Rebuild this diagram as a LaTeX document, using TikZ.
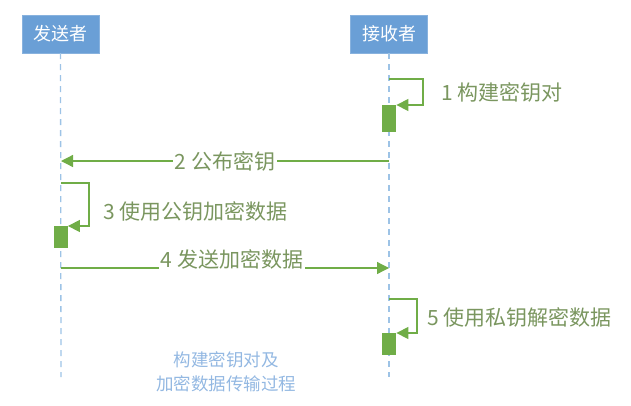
\documentclass[tikz,border=0pt]{standalone}
\usepackage{fontspec}
\usepackage{xcolor}
\usepackage{tikz}
\usetikzlibrary{positioning,arrows.meta,calc}
\newfontfamily\cjk{Noto Sans CJK SC}
\definecolor{boxblue}{HTML}{6A9FD6}
\definecolor{lifeblue}{HTML}{9DC3E6}
\definecolor{msggreen}{HTML}{70AD47}
\definecolor{txtgreen}{HTML}{7A965F}
\definecolor{capblue}{HTML}{93B8E2}

\begin{document}
\begin{tikzpicture}[
    x=1pt, y=-1pt,
    actor/.style={fill=boxblue, draw=boxblue!80, minimum width=77pt, minimum height=38pt, inner sep=0pt, text=white, font=\cjk\fontsize{18}{20}\selectfont},
    life/.style={draw=lifeblue, line width=1.3pt, dash pattern=on 6pt off 5pt},
    msg/.style={-{Triangle[length=12pt,width=12pt]}, draw=msggreen, line width=1.3pt},
    bar/.style={fill=msggreen, draw=none, minimum width=14pt, minimum height=24pt, inner sep=0pt},
    lbl/.style={text=txtgreen, inner sep=2pt, font=\cjk\fontsize{21}{23}\selectfont},
    captext/.style={text=capblue, align=center, font=\cjk\fontsize{17.5}{24}\selectfont}
]
    \useasboundingbox (0,0) rectangle (631,405);

    % actors and lifelines
    \node[actor] (sender) at (60.5,34) {发送者};
    \node[actor] (receiver) at (389,34) {接收者};
    \coordinate (sendend) at (61,377);
    \coordinate (recvend) at (389,377);
    \draw[life] (sender.south) -- (sendend);
    \draw[life] (receiver.south) -- (recvend);

    % 1: receiver builds key pair
    \coordinate (r1) at (389,79);
    \node[bar, anchor=north west, minimum height=27pt] (b1) at (382,105) {};
    \draw[msg] (r1) -- ++(34,0) |- (b1.north east);
    \node[lbl, anchor=west] (l1) at (439,92) {1 构建密钥对};

    % 2: publish public key
    \coordinate (m2r) at (389,161);
    \coordinate (m2s) at (61,161);
    \draw[msg] (m2r) -- node[lbl, fill=white] (l2) {2 公布密钥} (m2s);

    % 3: sender encrypts
    \coordinate (s3) at (61,183);
    \node[bar, anchor=north west, minimum height=22pt] (b3) at (53.5,226) {};
    \draw[msg] (s3) -- ++(28,0) |- (b3.north east);
    \node[lbl, anchor=west] (l3) at (101,211) {3 使用公钥加密数据};

    % 4: send encrypted data
    \coordinate (m4s) at (61,268);
    \coordinate (m4r) at (389,268);
    \draw[msg] (m4s) -- node[lbl, fill=white, xshift=7pt, yshift=9pt] (l4) {4 发送加密数据} (m4r);

    % 5: receiver decrypts
    \coordinate (r5) at (389,299);
    \node[bar, anchor=north west, minimum height=22pt] (b5) at (382,333) {};
    \draw[msg] (r5) -- ++(28,0) |- (b5.north east);
    \node[lbl, anchor=west] (l5) at (425,317) {5 使用私钥解密数据};

    % caption
    \node[captext] (caption) at (226,372) {构建密钥对及\\加密数据传输过程};
\end{tikzpicture}
\end{document}
